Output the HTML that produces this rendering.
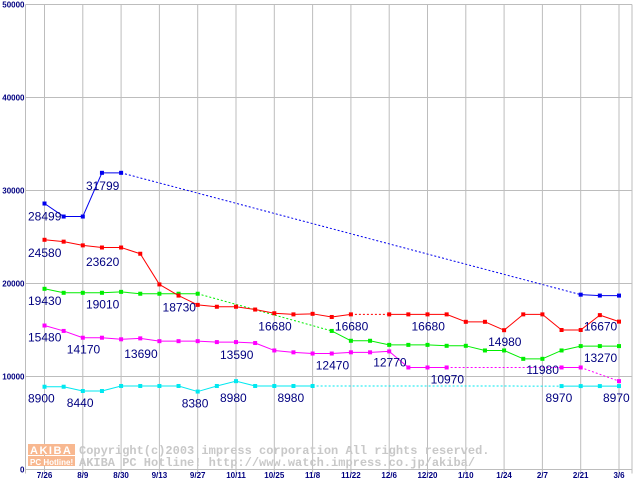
<!DOCTYPE html>
<html><head><meta charset="utf-8"><style>
html,body{margin:0;padding:0;background:#fff;}
svg{display:block;font-family:"Liberation Sans",sans-serif;}
.lbl{font-size:12px;fill:#000080;}
.tick{font-size:8px;font-weight:bold;fill:#000080;}
</style></head><body>
<svg id="chart" width="640" height="480" viewBox="0 0 640 480">
<g id="grid"></g>
<g id="wm">
<rect x="28" y="444" width="47" height="11" fill="#f8b890"/>
<rect x="28" y="456" width="47" height="10" fill="#f8b890"/>
<text x="30" y="454" font-size="11" font-weight="bold" fill="#fff" letter-spacing="1.5">AKIBA</text>
<text x="30" y="465" font-size="8" font-weight="bold" fill="#fff">PC Hotline!</text>
<text x="79" y="454" font-family="Liberation Mono,monospace" font-size="12" font-weight="bold" fill="#c8c8c8">Copyright(c)2003 impress corporation All rights reserved.</text>
<text x="79" y="466" font-family="Liberation Mono,monospace" font-size="12" font-weight="bold" fill="#c8c8c8">AKIBA PC Hotline!  http://www.watch.impress.co.jp/akiba/</text>
</g>
<g id="series"></g>
<g id="labels"></g>
</svg>
<script>
const xTicks=["7/26","8/9","8/30","9/13","9/27","10/11","10/25","11/8","11/22","12/6","12/20","1/10","1/24","2/7","2/21","3/6"];
const yTicks=[0,10000,20000,30000,40000,50000];
const blueVals=[28600,27200,27200,31900,31900,null,null,null,null,null,null,null,null,null,null,null,null,null,null,null,null,null,null,null,null,null,null,null,18800,18700,18700];
const redVals=[24700,24500,24100,23870,23870,23200,19900,18700,17700,17500,17500,17200,16800,16680,16740,16400,16680,null,16680,16680,16680,16680,15880,15880,14980,16680,16680,15000,15000,16600,15900];
const greenVals=[19430,19000,19000,19000,19100,18900,18900,18900,18900,null,null,null,null,null,null,14900,13840,13840,13400,13400,13400,13300,13300,12800,12800,11900,11900,12800,13270,13270,13270];
const magentaVals=[15480,14900,14170,14170,14000,14100,13800,13800,13800,13700,13700,13600,12800,12600,12470,12470,12600,12600,12700,10970,10970,10970,null,null,null,null,null,10970,10970,null,9500];
const cyanVals=[8900,8900,8440,8440,8980,8980,8980,8980,8380,8980,9500,8980,8980,8980,8980,null,null,null,null,null,null,null,null,null,null,null,null,8970,8970,8970,8970];
const labelTexts=["28499","31799","24580","23620","19430","19010","18730","16680","16680","16680","14980","16670","15480","14170","13690","13590","12470","12770","10970","11980","13270","8900","8440","8380","8980","8980","8970","8970"];
const labelIdx=[0,3,0,3,0,3,7,12,16,20,24,29,0,2,5,10,15,18,21,26,29,0,2,8,10,13,27,30];
const labelVals=[28499,31799,24580,23620,19430,19010,18730,16680,16680,16680,14980,16670,15480,14170,13690,13590,12470,12770,10970,11980,13270,8900,8440,8380,8980,8980,8970,8970];
const NS="http://www.w3.org/2000/svg";
const X0=44.5,DX=19.15,Y0=469.5,YS=465/50000,LEFT=25.5,RIGHT=632;
const xs=i=>X0+DX*i, ys=v=>Y0-v*YS;
function mk(tag,attrs,parent){const e=document.createElementNS(NS,tag);for(const k in attrs)e.setAttribute(k,attrs[k]);parent.appendChild(e);return e;}
const grid=document.getElementById('grid');
yTicks.forEach(v=>{
 const l=mk('line',{x1:LEFT,x2:RIGHT,y1:ys(v),y2:ys(v),stroke:'#bdbdbd','stroke-width':1},grid);
 
 
 const t=mk('text',{x:LEFT-1,y:ys(v)+3,'text-anchor':'end',class:'tick'},grid);t.textContent=v;
 
 
});
const ax=mk('line',{x1:LEFT,x2:LEFT,y1:ys(50000),y2:ys(0)+4,stroke:'#bdbdbd'},grid);


const rx=mk('line',{x1:RIGHT,x2:RIGHT,y1:ys(50000),y2:ys(0)+4,stroke:'#bdbdbd'},grid);


xTicks.forEach((s,k)=>{
 const x=xs(2*k);
 const l=mk('line',{x1:x,x2:x,y1:ys(50000),y2:ys(0)+4,stroke:'#bdbdbd'},grid);
 
 
 const t=mk('text',{x:x,y:478,'text-anchor':'middle',class:'tick'},grid);t.textContent=s;
 
 
});
const sg=document.getElementById('series');
function drawSeries(vals,color,name){
 const g=mk('g',{},sg);
 
 
 let prev=-1;
 vals.forEach((v,i)=>{
  if(v==null)return;
  if(prev>=0){
   const seg=mk('line',{x1:xs(prev),y1:ys(vals[prev]),x2:xs(i),y2:ys(v),stroke:color,'stroke-width':1},g);
   if(i-prev>1)seg.setAttribute('stroke-dasharray','2,2');
   
   
  }
  prev=i;
 });
 vals.forEach((v,i)=>{
  if(v==null)return;
  const r=mk('rect',{x:xs(i)-2,y:ys(v)-2,width:4,height:4,fill:color},g);
  
  
 });
}
drawSeries(cyanVals,'#00e8f0','series-cyan');
drawSeries(magentaVals,'#ff00ff','series-magenta');
drawSeries(greenVals,'#00ee00','series-green');
drawSeries(redVals,'#ff0000','series-red');
drawSeries(blueVals,'#0000ee','series-blue');
const lg=document.getElementById('labels');
labelTexts.forEach((s,k)=>{
 let x=xs(labelIdx[k])-16; if(labelIdx[k]===0)x=28;
 const t=mk('text',{x:x,y:ys(labelVals[k])+16,class:'lbl'},lg);
 t.textContent=s;
 
 
});
</script>
</body></html>
